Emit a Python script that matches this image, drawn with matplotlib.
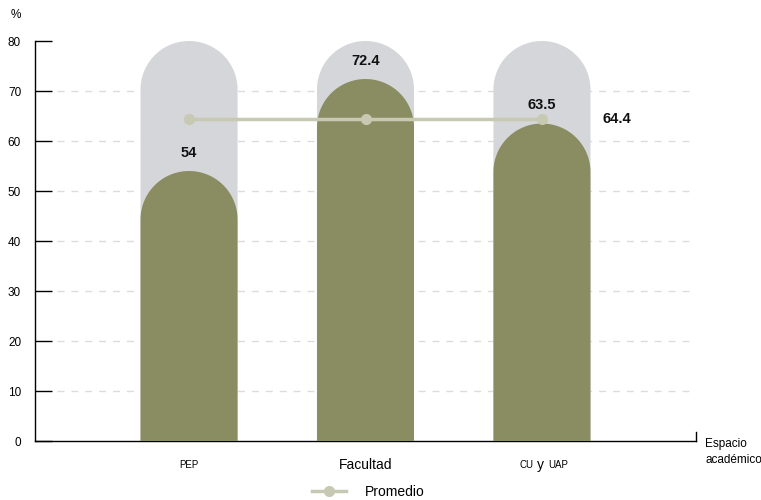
import numpy as np
import matplotlib
matplotlib.use("Agg")
import matplotlib.pyplot as plt
from matplotlib.path import Path
from matplotlib.patches import PathPatch
from matplotlib.lines import Line2D

categories = ["PEP", "Facultad", "CU y UAP"]
values = [54, 72.4, 63.5]
background = [80, 80, 80]
promedio = 64.4

plt.rcParams["font.family"] = ["Liberation Sans", "DejaVu Sans"]

fig = plt.figure(figsize=(7.61, 5.0), dpi=100)
ax = fig.add_axes([35 / 761, 59 / 500, 661 / 761, 400 / 500])
ax.set_xlim(-0.873, 2.873)
ax.set_ylim(0, 80)

bar_w = 0.55
ry = 9.7  # y radius of the rounded cap in data units


def rounded_bar(x, h, color, z):
    t = np.linspace(0, np.pi, 60)
    xs = [x - bar_w / 2, x + bar_w / 2] + list(x + bar_w / 2 * np.cos(t))
    ys = [0, 0] + list(h - ry + ry * np.sin(t))
    verts = list(zip(xs, ys)) + [(xs[0], ys[0])]
    codes = [Path.MOVETO] + [Path.LINETO] * (len(verts) - 2) + [Path.CLOSEPOLY]
    ax.add_patch(PathPatch(Path(verts, codes), facecolor=color, edgecolor="none", zorder=z))


# dashed grid lines
for g in range(10, 80, 10):
    ax.plot([22 / 661, 1], [g, g], transform=ax.get_yaxis_transform(), color="#dcdcdc",
            lw=1, ls=(0, (5, 5)), zorder=1)

xpos = np.arange(len(categories))
for x, b, v in zip(xpos, background, values):
    rounded_bar(x, b, "#d5d6d9", 2)
    rounded_bar(x, v, "#8a8d62", 3)
    ax.annotate(f"{v:g}", (x, v), xytext=(0, 13), textcoords="offset points",
                ha="center", va="center", fontsize=10.5, fontweight="bold", color="#111111")

ax.plot(xpos, [promedio] * len(xpos), color="#c7c9b2", lw=2.5, marker="o", ms=7,
        zorder=4, label="Promedio")
ax.annotate(f"{promedio:g}", (xpos[-1], promedio), xytext=(54, 0), textcoords="offset points",
            ha="center", va="center", fontsize=10.5, fontweight="bold", color="#111111")

# axes styling
for s in ["top", "right"]:
    ax.spines[s].set_visible(False)
ax.spines["left"].set_linewidth(1)
ax.spines["bottom"].set_linewidth(1)
ax.set_yticks(range(0, 81, 10))
ax.tick_params(axis="y", direction="in", length=12, width=1, pad=10, labelsize=8.5, colors="black")
ax.set_xticks([])
ax.plot([1, 1], [0, 9 / 400], transform=ax.transAxes, color="black", lw=1, clip_on=False)

# category labels
lab_off = -17
ax.annotate("PEP", (0, 0), xytext=(0, lab_off), textcoords="offset points",
            ha="center", va="center", fontsize=7)
ax.annotate("Facultad", (1, 0), xytext=(0, lab_off), textcoords="offset points",
            ha="center", va="center", fontsize=10)
ax.annotate("CU", (2, 0), xytext=(-11, lab_off), textcoords="offset points",
            ha="center", va="center", fontsize=7)
ax.annotate("y", (2, 0), xytext=(-1, lab_off), textcoords="offset points",
            ha="center", va="center", fontsize=10)
ax.annotate("UAP", (2, 0), xytext=(12, lab_off), textcoords="offset points",
            ha="center", va="center", fontsize=7)

fig.text(16 / 761, 1 - 15 / 500, "%", fontsize=8.5, ha="center", va="center")
fig.text(705 / 761, 1 - 452 / 500, "Espacio\nacadémico", fontsize=8.5, ha="left", va="center",
         linespacing=1.45)

handle = Line2D([], [], color="#c7c9b2", lw=2.5, marker="o", ms=7)
fig.legend([handle], ["Promedio"], loc="center", bbox_to_anchor=(368 / 761, 1 - 492 / 500),
           frameon=False, fontsize=10, handlelength=2.5, handletextpad=1.3)

fig.savefig("out.png", dpi=100)
